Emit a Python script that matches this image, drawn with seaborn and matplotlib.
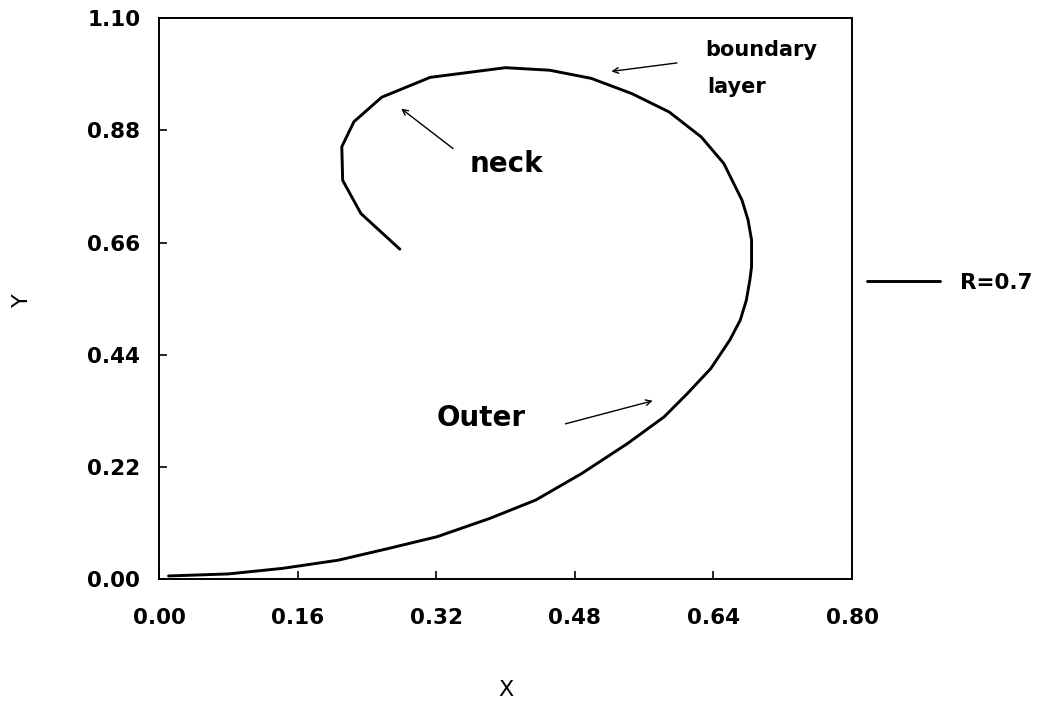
import matplotlib
matplotlib.use("Agg")
import matplotlib.pyplot as plt
import seaborn as sns
import pandas as pd

# Curve data, in drawing order
x_vals = [0.011, 0.080, 0.143, 0.207, 0.265, 0.321, 0.382, 0.435, 0.488, 0.541,
          0.583, 0.610, 0.637, 0.659, 0.671, 0.678, 0.682, 0.684, 0.684, 0.680,
          0.673, 0.652, 0.626, 0.589, 0.546, 0.499, 0.451, 0.400, 0.313, 0.257,
          0.225, 0.211, 0.212, 0.233, 0.278]
y_vals = [0.006, 0.010, 0.021, 0.037, 0.060, 0.083, 0.119, 0.155, 0.207, 0.266,
          0.318, 0.364, 0.413, 0.469, 0.508, 0.547, 0.586, 0.612, 0.665, 0.704,
          0.743, 0.815, 0.867, 0.916, 0.952, 0.982, 0.998, 1.003, 0.984, 0.945,
          0.897, 0.848, 0.782, 0.717, 0.647]
series_label = "R=0.7"
x_ticks = [0.00, 0.16, 0.32, 0.48, 0.64, 0.80]
y_ticks = [0.00, 0.22, 0.44, 0.66, 0.88, 1.10]

sns.set_style("ticks")
plt.rcParams['font.family'] = ['DejaVu Sans']
plt.rcParams['text.color'] = 'black'
plt.rcParams['axes.labelcolor'] = 'black'

df = pd.DataFrame({"X": x_vals, "Y": y_vals, "series": series_label})

fig = plt.figure(figsize=(10.51, 7.01), dpi=100)
ax = fig.add_axes([0.1513, 0.174, 0.6594, 0.800])

sns.lineplot(data=df, x="X", y="Y", hue="series", palette=["black"],
             sort=False, estimator=None, linewidth=2.1, ax=ax)

ax.set_xlim(0, 0.80)
ax.set_ylim(0, 1.10)
ax.set_xticks(x_ticks)
ax.set_yticks(y_ticks)
ax.set_xticklabels([f"{t:.2f}" for t in x_ticks], fontsize=15.5, fontweight="bold")
ax.set_yticklabels([f"{t:.2f}" for t in y_ticks], fontsize=15.5, fontweight="bold")
ax.tick_params(direction="in", length=6, width=1.2, colors="black")
ax.tick_params(axis="x", pad=21)
ax.tick_params(axis="y", pad=13.5)
for s in ax.spines.values():
    s.set_linewidth(1.4)
    s.set_color("black")

ax.set_xlabel("X", fontsize=16, color="black")
ax.set_ylabel("Y", fontsize=16, color="black")
ax.xaxis.set_label_coords(0.5, -0.180)
ax.yaxis.set_label_coords(-0.184, 0.497)

leg = ax.legend(loc="center left", bbox_to_anchor=(1.0, 0.528), frameon=False,
                handlelength=3.4, handletextpad=0.9, borderaxespad=0.3,
                prop={"weight": "bold", "size": 15.5})
for t in leg.get_texts():
    t.set_color("black")

# Annotations
ax.annotate("", xy=(0.519, 0.995), xytext=(0.601, 1.013),
            arrowprops=dict(arrowstyle="->", color="black", lw=1.0))
ax.text(0.631, 1.037, "boundary", fontsize=15, fontweight="bold", ha="left", va="center", color="black")
ax.text(0.633, 0.966, "layer", fontsize=15, fontweight="bold", ha="left", va="center", color="black")

ax.annotate("", xy=(0.277, 0.926), xytext=(0.342, 0.841),
            arrowprops=dict(arrowstyle="->", color="black", lw=1.0))
ax.text(0.358, 0.815, "neck", fontsize=20, fontweight="bold", ha="left", va="center", color="black")

ax.annotate("", xy=(0.573, 0.351), xytext=(0.466, 0.303),
            arrowprops=dict(arrowstyle="->", color="black", lw=1.0))
ax.text(0.321, 0.316, "Outer", fontsize=20, fontweight="bold", ha="left", va="center", color="black")

fig.savefig("out.png", dpi=100)
